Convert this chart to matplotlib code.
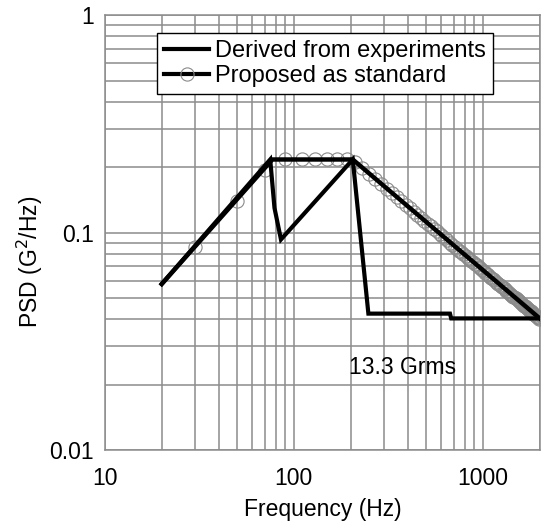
import matplotlib
matplotlib.use("Agg")
import matplotlib.pyplot as plt
from matplotlib.lines import Line2D
from matplotlib.ticker import FixedLocator, FixedFormatter, NullFormatter, LogLocator

plt.rcParams['font.family'] = ['Liberation Sans', 'DejaVu Sans']

# Derived from experiments
derived_freq = [20, 75, 79, 85.5, 205, 248, 670, 680, 2000]
derived_psd = [0.058, 0.217, 0.13, 0.093, 0.217, 0.0424, 0.0424, 0.0403, 0.0403]

# Proposed as standard (line breakpoints)
proposed_freq = [20, 77, 205, 2000]
proposed_psd = [0.058, 0.217, 0.217, 0.0403]

# Proposed as standard (marker samples)
marker_freq = [30, 50, 70, 90, 110, 130, 150, 170, 190,
               210, 230, 250, 270, 290, 310, 330, 350, 370, 390,
               410, 430, 450, 470, 490, 510, 530, 550, 570, 590,
               610, 630, 650, 670, 690, 710, 730, 750, 770, 790,
               810, 830, 850, 870, 890, 910, 930, 950, 970, 990,
               1010, 1030, 1050, 1070, 1090, 1110, 1130, 1150, 1170, 1190,
               1210, 1230, 1250, 1270, 1290, 1310, 1330, 1350, 1370, 1390,
               1410, 1430, 1450, 1470, 1490, 1510, 1530, 1550, 1570, 1590,
               1610, 1630, 1650, 1670, 1690, 1710, 1730, 1750, 1770, 1790,
               1810, 1830, 1850, 1870, 1890, 1910, 1930, 1950, 1970, 1990]
marker_psd = [0.0857, 0.140, 0.1936, 0.217, 0.217, 0.217, 0.217, 0.217, 0.217,
              0.2122, 0.1984, 0.1865, 0.1762, 0.1671, 0.1591, 0.1519, 0.1454, 0.1396, 0.1342,
              0.1293, 0.1249, 0.1207, 0.1169, 0.1133, 0.1100, 0.1070, 0.1041, 0.1014, 0.0988,
              0.0964, 0.0941, 0.0920, 0.0899, 0.0880, 0.0861, 0.0844, 0.0827, 0.0811, 0.0796,
              0.0781, 0.0768, 0.0754, 0.0741, 0.0729, 0.0717, 0.0706, 0.0695, 0.0684, 0.0674,
              0.0664, 0.0654, 0.0645, 0.0636, 0.0627, 0.0619, 0.0611, 0.0603, 0.0595, 0.0588,
              0.0581, 0.0574, 0.0567, 0.0560, 0.0554, 0.0548, 0.0541, 0.0536, 0.0530, 0.0524,
              0.0519, 0.0513, 0.0508, 0.0503, 0.0498, 0.0493, 0.0488, 0.0484, 0.0479, 0.0474,
              0.0470, 0.0466, 0.0462, 0.0458, 0.0453, 0.0450, 0.0446, 0.0442, 0.0438, 0.0435,
              0.0431, 0.0428, 0.0424, 0.0421, 0.0417, 0.0414, 0.0411, 0.0408, 0.0405, 0.0402]

x_ticks = [10, 100, 1000]
x_tick_labels = ["10", "100", "1000"]
y_ticks = [0.01, 0.1, 1]
y_tick_labels = ["0.01", "0.1", "1"]

fig = plt.figure(figsize=(5.43, 5.26), dpi=100)
ax = fig.add_axes([0.193, 0.1445, 0.801, 0.8265])
ax.set_xscale('log')
ax.set_yscale('log')
ax.set_xlim(10, 2000)
ax.set_ylim(0.01, 1)

grid_col = '#8c8c8c'
ax.xaxis.set_major_locator(FixedLocator(x_ticks))
ax.xaxis.set_major_formatter(FixedFormatter(x_tick_labels))
ax.xaxis.set_minor_locator(LogLocator(base=10, subs=range(2, 10), numticks=20))
ax.xaxis.set_minor_formatter(NullFormatter())
ax.yaxis.set_major_locator(FixedLocator(y_ticks))
ax.yaxis.set_major_formatter(FixedFormatter(y_tick_labels))
ax.yaxis.set_minor_locator(LogLocator(base=10, subs=range(2, 10), numticks=20))
ax.yaxis.set_minor_formatter(NullFormatter())
ax.grid(True, which='both', color=grid_col, linewidth=1.1)
ax.set_axisbelow(True)
ax.tick_params(which='both', length=0, labelsize=16.5)
ax.tick_params(axis='y', pad=8)
ax.tick_params(axis='x', pad=12)
for s in ax.spines.values():
    s.set_color(grid_col)
    s.set_linewidth(1.1)

ax.plot(marker_freq, marker_psd, linestyle='none', marker='o', markersize=9.5,
        markerfacecolor='none', markeredgecolor='#8a8a8a', markeredgewidth=0.8, zorder=2)
ax.plot(proposed_freq, proposed_psd, color='black', linewidth=3.2, zorder=3,
        solid_joinstyle='miter')
ax.plot(derived_freq, derived_psd, color='black', linewidth=3.0, zorder=4,
        solid_joinstyle='miter')

ax.text(195, 0.0240, "13.3 Grms", fontsize=16.5, ha='left', va='center')

h1 = Line2D([], [], color='black', linewidth=3)
h2 = Line2D([], [], color='black', linewidth=3, marker='o', markersize=9.5,
            markerfacecolor='none', markeredgecolor='#8a8a8a', markeredgewidth=0.8)
leg = ax.legend([h1, h2], ["Derived from experiments", "Proposed as standard"],
                loc='upper left', bbox_to_anchor=(0.12, 0.9586), fontsize=17,
                frameon=True, fancybox=False, framealpha=1, edgecolor='black',
                handlelength=1.9, handletextpad=0.25, borderpad=0.3,
                labelspacing=0.12, numpoints=1, borderaxespad=0)
leg.get_frame().set_linewidth(1.0)

ax.set_xlabel("Frequency (Hz)", fontsize=16.5)
ax.xaxis.set_label_coords(0.501, -0.11)
ax.set_ylabel("PSD (G$^2$/Hz)", fontsize=16.5)
ax.yaxis.set_label_coords(-0.138, 0.432)

fig.savefig("out.png", dpi=100)
